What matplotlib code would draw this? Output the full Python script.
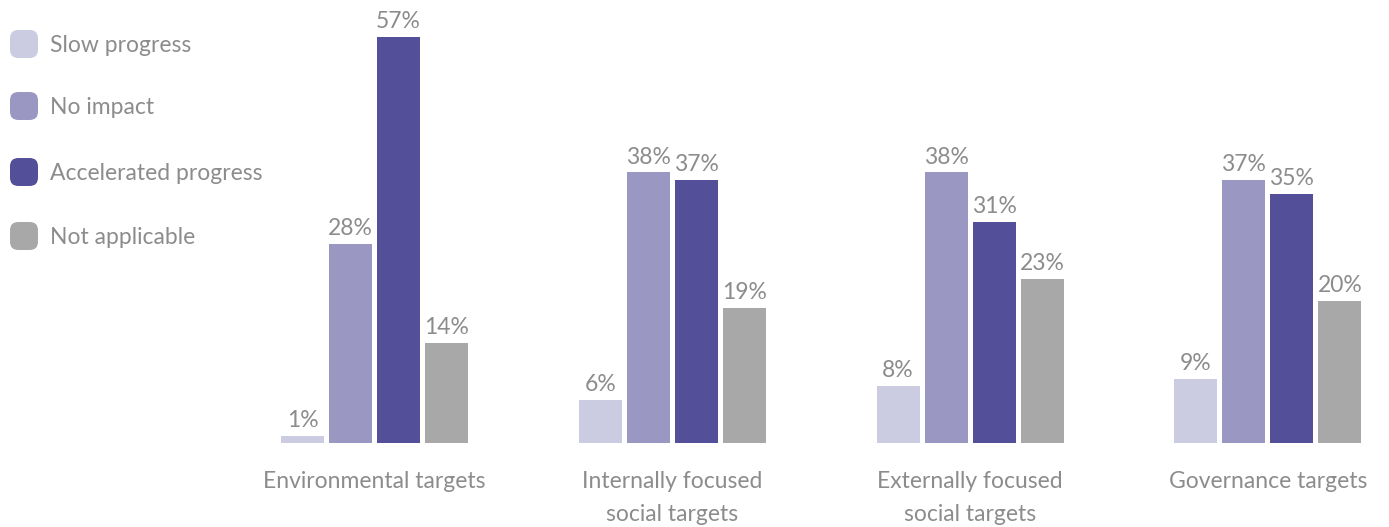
import matplotlib
matplotlib.use("Agg")
import matplotlib.pyplot as plt
import numpy as np
from matplotlib.patches import FancyBboxPatch

categories = ["Environmental targets", "Internally focused\nsocial targets",
              "Externally focused\nsocial targets", "Governance targets"]
series_names = ["Slow progress", "No impact", "Accelerated progress", "Not applicable"]
slow_progress = [1, 6, 8, 9]
no_impact = [28, 38, 38, 37]
accelerated = [57, 37, 31, 35]
not_applicable = [14, 19, 23, 20]
series_values = [slow_progress, no_impact, accelerated, not_applicable]
colors = ["#CBCBE1", "#9A98C3", "#534F98", "#A8A8A8"]
text_color = "#8C8C8C"

plt.rcParams['font.family'] = ['Lato', 'DejaVu Sans']
FS = 16.5

W, H = 1389, 527
fig = plt.figure(figsize=(W / 100, H / 100), dpi=100)
left_px, right_px, base_px = 260, 1380, 443
ax = fig.add_axes([left_px / W, (H - base_px) / H, (right_px - left_px) / W, base_px / H])

x = np.arange(len(categories))
step = 48 / 297.8
width = 43 / 297.8
for i, (vals, col) in enumerate(zip(series_values, colors)):
    offs = (i - 1.5) * step
    bars = ax.bar(x + offs, vals, width=width, color=col, edgecolor="none")
    for b, v in zip(bars, vals):
        ax.annotate(f"{v}%", (b.get_x() + b.get_width() / 2, b.get_height()),
                    xytext=(0, 3.5), textcoords="offset points", ha="center", va="bottom",
                    fontsize=FS, color=text_color)

ax.set_xlim((left_px - 374.5) / 297.8, (right_px - 374.5) / 297.8)
ax.set_ylim(0, base_px / 7.12)
ax.set_xticks(x)
ax.set_xticklabels(categories, fontsize=FS, color=text_color, linespacing=1.7, va="top")
ax.tick_params(axis="x", length=0, pad=20)
ax.set_yticks([])
for s in ax.spines.values():
    s.set_visible(False)

# legend
row_centers = [44, 106, 172, 236]
sq = 28
for name, col, yc in zip(series_names, colors, row_centers):
    fig.patches.append(FancyBboxPatch((10 / W, (H - yc - sq / 2) / H), sq / W, sq / H,
                                      boxstyle="round,pad=0,rounding_size=0.006",
                                      mutation_aspect=W / H,
                                      transform=fig.transFigure, facecolor=col,
                                      edgecolor="none"))
    fig.text(50 / W, (H - yc - 2) / H, name, fontsize=FS, color=text_color, va="center", ha="left")

fig.savefig("out.png", dpi=100)
